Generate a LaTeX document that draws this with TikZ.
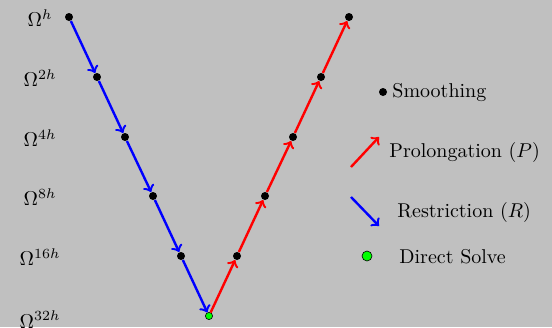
\documentclass[tikz,border=0pt]{standalone}
\begin{document}
\begin{tikzpicture}[x=0.5pt,y=-0.5pt,
  dot/.style={circle,fill=black,inner sep=0pt,minimum size=4pt},
  solve/.style={circle,fill=green,draw=black,line width=0.3pt,inner sep=0pt,minimum size=3.6pt},
  lsolve/.style={circle,fill=green,draw=black,line width=0.3pt,inner sep=0pt,minimum size=5pt},
  restr/.style={draw=blue,line width=1.2pt,->},
  prol/.style={draw=red,line width=1.2pt,->},
  lev/.style={anchor=base,inner sep=0pt},
  leg/.style={anchor=base west,inner sep=0pt}]
\definecolor{bg}{RGB}{192,192,192}
\fill[bg] (0,0) rectangle (552,327);
\useasboundingbox (0,0) rectangle (552,327);
\begin{scope}
\clip (0,0) rectangle (552,327);
% levels
\node[lev] (l0) at (40,26.5) {$\Omega^{h}$};
\node[lev] (l1) at (40,86.5) {$\Omega^{2h}$};
\node[lev] (l2) at (40,146.5) {$\Omega^{4h}$};
\node[lev] (l3) at (40,205.5) {$\Omega^{8h}$};
\node[lev] (l4) at (40,265.5) {$\Omega^{16h}$};
\node[lev] (l5) at (40,328) {$\Omega^{32h}$};
\end{scope}
% V-cycle nodes
\node[dot] (d0) at (69,17) {};
\node[dot] (d1) at (97,77) {};
\node[dot] (d2) at (125,137) {};
\node[dot] (d3) at (153,196) {};
\node[dot] (d4) at (181,256) {};
\node[solve] (d5) at (209,316) {};
\node[dot] (u4) at (237,256) {};
\node[dot] (u3) at (265,196) {};
\node[dot] (u2) at (293,137) {};
\node[dot] (u1) at (321,77) {};
\node[dot] (u0) at (349,17) {};
\draw[restr] (d0) -- (d1);
\draw[restr] (d1) -- (d2);
\draw[restr] (d2) -- (d3);
\draw[restr] (d3) -- (d4);
\draw[restr] (d4) -- (d5);
\draw[prol] (d5) -- (u4);
\draw[prol] (u4) -- (u3);
\draw[prol] (u3) -- (u2);
\draw[prol] (u2) -- (u1);
\draw[prol] (u1) -- (u0);
% legend
\node[dot] (ls) at (383,92) {};
\node[leg] (ts) at (392,97.5) {Smoothing};
\coordinate (pa) at (351,167);
\coordinate (pb) at (379,137);
\draw[prol] (pa) -- (pb);
\node[leg] (tp) at (389,157.5) {Prolongation $(P)$};
\coordinate (ra) at (351,197);
\coordinate (rb) at (379,226);
\draw[restr] (ra) -- (rb);
\node[leg] (tr) at (397,217.5) {Restriction $(R)$};
\node[lsolve] (lg) at (367,256) {};
\node[leg] (tg) at (399,263) {Direct Solve};
\end{tikzpicture}
\end{document}
